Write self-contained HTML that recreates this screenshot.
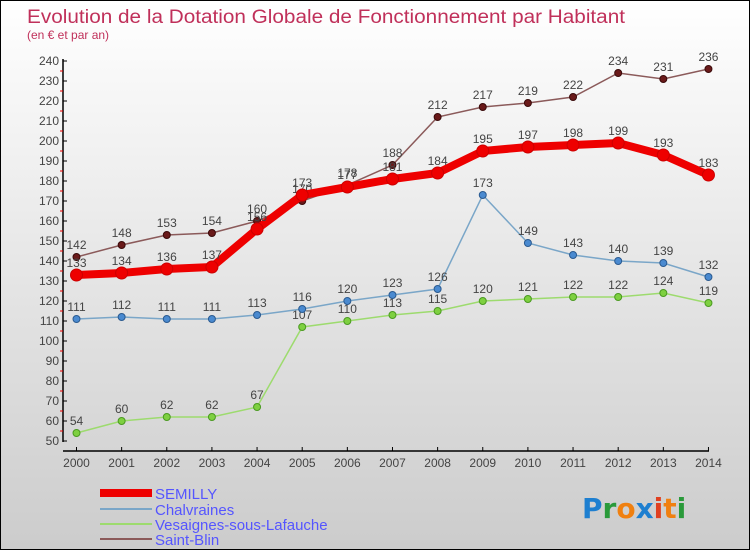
<!DOCTYPE html>
<html><head><meta charset="utf-8"><style>
body{margin:0}
#c{width:748px;height:548px;border:1px solid #000;background:linear-gradient(#fff,#ccc);position:relative;font-family:"Liberation Sans",sans-serif}
</style></head><body>
<div id="c">
<svg id="s" width="748" height="548" style="position:absolute;left:0;top:0">
<text x="26" y="22" font-size="19" fill="#c0305a" textLength="598" lengthAdjust="spacingAndGlyphs">Evolution de la Dotation Globale de Fonctionnement par Habitant</text>
<text x="26" y="38" font-size="12" fill="#c0305a">(en € et par an)</text>
<g id="axes"></g><g id="series"></g>
<g>
<rect x="99" y="488" width="52" height="8" fill="#e00"/>
<text x="154" y="498" font-size="15" fill="#55f">SEMILLY</text>
<line x1="99" y1="508" x2="151" y2="508" stroke="#7aa6c8" stroke-width="2"/>
<text x="154" y="514" font-size="15" fill="#55f">Chalvraines</text>
<line x1="99" y1="523" x2="151" y2="523" stroke="#9ddb6e" stroke-width="2"/>
<text x="154" y="529" font-size="15" fill="#55f">Vesaignes-sous-Lafauche</text>
<line x1="99" y1="538" x2="151" y2="538" stroke="#8b5a5a" stroke-width="2"/>
<text x="154" y="544" font-size="15" fill="#55f">Saint-Blin</text>
</g>
<g font-size="28" font-weight="bold" font-family="'DejaVu Sans',sans-serif">
<text x="581" y="517"><tspan fill="#1e7fd0">P</tspan><tspan fill="#2a9a3a">r</tspan><tspan fill="#f08010">o</tspan><tspan fill="#1e7fd0">x</tspan><tspan fill="#e04020">i</tspan><tspan fill="#f08010">t</tspan><tspan fill="#2a9a3a">i</tspan></text>
</g>
</svg>
</div>
<script>
const years=[2000,2001,2002,2003,2004,2005,2006,2007,2008,2009,2010,2011,2012,2013,2014];
const semilly=[133,134,136,137,156,173,177,181,184,195,197,198,199,193,183];
const chalvraines=[111,112,111,111,113,116,120,123,126,173,149,143,140,139,132];
const vesaignes=[54,60,62,62,67,107,110,113,115,120,121,122,122,124,119];
const saintBlin=[142,148,153,154,160,170,178,188,212,217,219,222,234,231,236];
const yTicks=[50,60,70,80,90,100,110,120,130,140,150,160,170,180,190,200,210,220,230,240];
const NS="http://www.w3.org/2000/svg";
const X=i=>75.5+i*45.14, Y=v=>440-(v-50)*2;
function mk(t,a,p){const e=document.createElementNS(NS,t);for(const k in a)e.setAttribute(k,a[k]);p.appendChild(e);return e;}
const ax=document.getElementById('axes');
let l=mk('line',{x1:62,y1:58,x2:62,y2:441,stroke:'#000','stroke-width':1.5},ax);


l=mk('line',{x1:62,y1:450,x2:708,y2:450,stroke:'#000','stroke-width':1.5},ax);


yTicks.forEach((v,k)=>{
 mk('line',{x1:62,y1:Y(v),x2:66,y2:Y(v),stroke:'#000'},ax);
 if(k<yTicks.length-1) mk('line',{x1:59,y1:Y(v+5),x2:62,y2:Y(v+5),stroke:'#e00'},ax);
 const t=mk('text',{x:58,y:Y(v)+4,'font-size':12,fill:'#444','text-anchor':'end'},ax);t.textContent=v;
 
 
});
years.forEach((y,i)=>{
 mk('line',{x1:X(i),y1:446,x2:X(i),y2:450,stroke:'#000'},ax);
 const t=mk('text',{x:X(i),y:466,'font-size':12,fill:'#444','text-anchor':'middle'},ax);t.textContent=y;
 
 
});
const sg=document.getElementById('series');
function series(data,name,color,w,r,fill,stroke){
 const g=mk('g',{},sg);
 
 
 mk('polyline',{points:data.map((v,i)=>X(i)+','+Y(v)).join(' '),fill:'none',stroke:color,'stroke-width':w},g);
 data.forEach((v,i)=>{
  const c=mk('circle',{cx:X(i),cy:Y(v),r:r,fill:fill,stroke:stroke},g);
  
  
  const t=mk('text',{x:X(i),y:Y(v)-8,'font-size':12,fill:'#444','text-anchor':'middle'},g);t.textContent=v;
 });
}
series(vesaignes,'vesaignes','#9ddb6e',1.5,3.5,'#7ed040','#4a9a20');
series(chalvraines,'chalvraines','#7aa6c8',1.5,3.5,'#4a8ad0','#2a5a90');
series(saintBlin,'saint-blin','#8b5a5a',1.5,3.5,'#6a1a1a','#3a0a0a');
series(semilly,'semilly','#e00',8,6,'#e00','#c00');
</script>
</body></html>
